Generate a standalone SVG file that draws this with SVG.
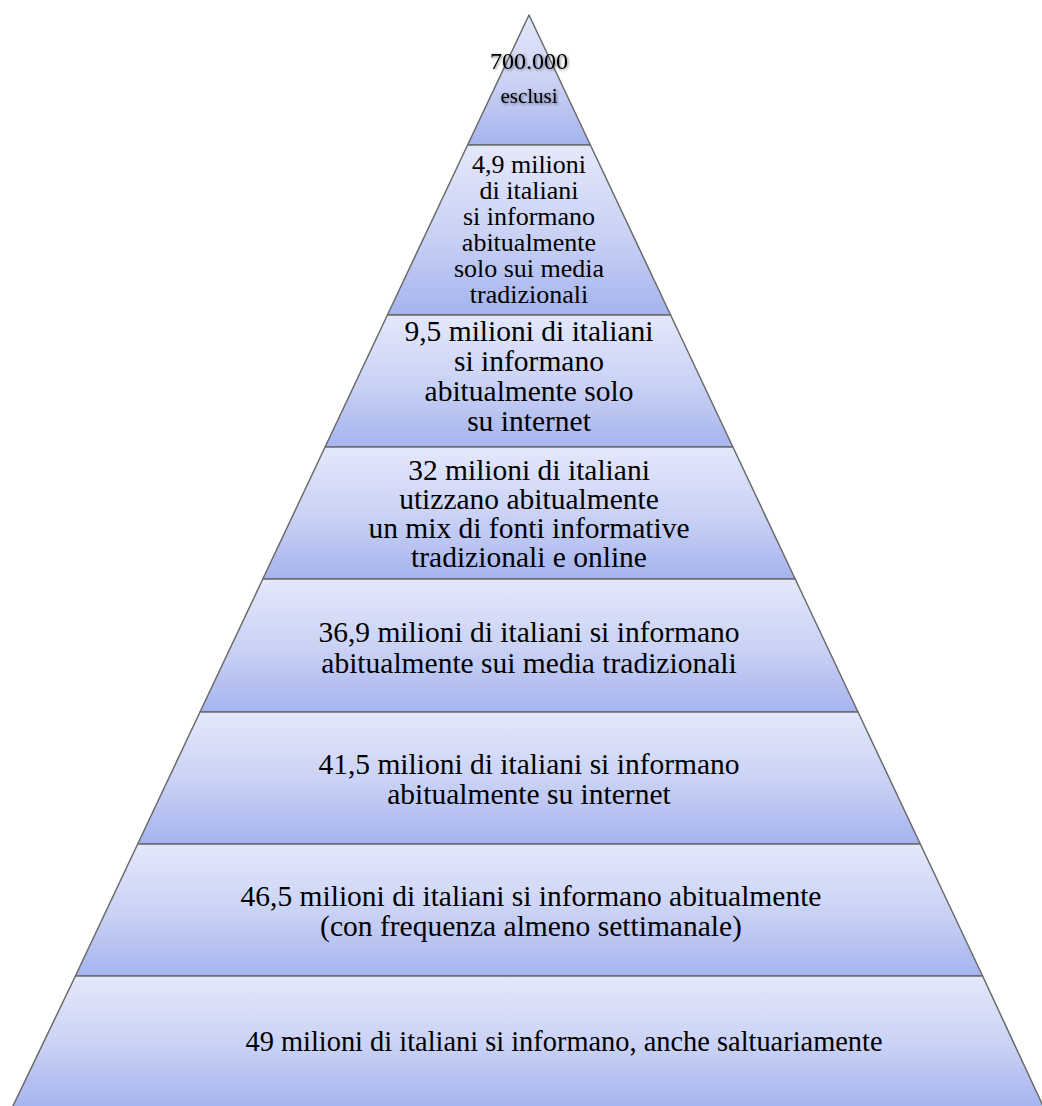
<svg xmlns="http://www.w3.org/2000/svg" width="1042" height="1106" viewBox="0 0 1042 1106">
<defs>
<linearGradient id="lv" x1="0" y1="0" x2="0" y2="1">
<stop offset="0" stop-color="#e4e8fb"/>
<stop offset="0.5" stop-color="#cbd3f5"/>
<stop offset="1" stop-color="#a6b4ee"/>
</linearGradient>
<filter id="glow" x="-20%" y="-30%" width="140%" height="160%">
<feGaussianBlur in="SourceAlpha" stdDeviation="1.6" result="b"/>
<feOffset in="b" dx="0.5" dy="0.5" result="o"/>
<feComponentTransfer in="o" result="s"><feFuncA type="linear" slope="0.55"/></feComponentTransfer>
<feMerge><feMergeNode in="s"/><feMergeNode in="SourceGraphic"/></feMerge>
</filter>
</defs>
<style>
.lvl{fill:url(#lv);stroke:#6b6b6b;stroke-width:1.5;stroke-linejoin:round}
text{font-family:"Liberation Serif","Times New Roman",serif;fill:#000;text-anchor:middle}
.t1{font-size:24px}
.t1b{font-size:21px}
.t2{font-size:26px}
.t3{font-size:29.5px}
.t8{font-size:28.4px}
</style>
<rect width="1042" height="1106" fill="#ffffff"/>
<g id="level1">
<polygon class="lvl" points="529,15 590.4,145 467.6,145"/>
<g filter="url(#glow)">
<text class="t1" x="529" y="69">700.000</text>
<text class="t1b" x="529" y="103">esclusi</text>
</g>
</g>
<g id="level2">
<polygon class="lvl" points="467.6,145 590.4,145 670.6,315 387.4,315"/>
<text class="t2" x="529" y="173">4,9 milioni</text>
<text class="t2" x="529" y="199">di italiani</text>
<text class="t2" x="529" y="225">si informano</text>
<text class="t2" x="529" y="251">abitualmente</text>
<text class="t2" x="529" y="277">solo sui media</text>
<text class="t2" x="529" y="303">tradizionali</text>
</g>
<g id="level3">
<polygon class="lvl" points="387.4,315 670.6,315 732.9,447 325.1,447"/>
<text class="t3" x="529" y="341">9,5 milioni di italiani</text>
<text class="t3" x="529" y="371">si informano</text>
<text class="t3" x="529" y="401">abitualmente solo</text>
<text class="t3" x="529" y="431">su internet</text>
</g>
<g id="level4">
<polygon class="lvl" points="325.1,447 732.9,447 795.2,579 262.8,579"/>
<text class="t3" x="529" y="480">32 milioni di italiani</text>
<text class="t3" x="529" y="509">utizzano abitualmente</text>
<text class="t3" x="529" y="538">un mix di fonti informative</text>
<text class="t3" x="529" y="567">tradizionali e online</text>
</g>
<g id="level5">
<polygon class="lvl" points="262.8,579 795.2,579 858,712 200,712"/>
<text class="t3" x="529" y="642">36,9 milioni di italiani si informano</text>
<text class="t3" x="529" y="673">abitualmente sui media tradizionali</text>
</g>
<g id="level6">
<polygon class="lvl" points="200,712 858,712 920.3,844 137.7,844"/>
<text class="t3" x="529" y="774">41,5 milioni di italiani si informano</text>
<text class="t3" x="529" y="804">abitualmente su internet</text>
</g>
<g id="level7">
<polygon class="lvl" points="137.7,844 920.3,844 982.6,976 75.4,976"/>
<text class="t3" x="531" y="906">46,5 milioni di italiani si informano abitualmente</text>
<text class="t3" x="531" y="936">(con frequenza almeno settimanale)</text>
</g>
<g id="level8">
<polygon class="lvl" points="75.4,976 982.6,976 1044,1108 12,1108"/>
<text class="t8" x="564" y="1051">49 milioni di italiani si informano, anche saltuariamente</text>
</g>
</svg>
